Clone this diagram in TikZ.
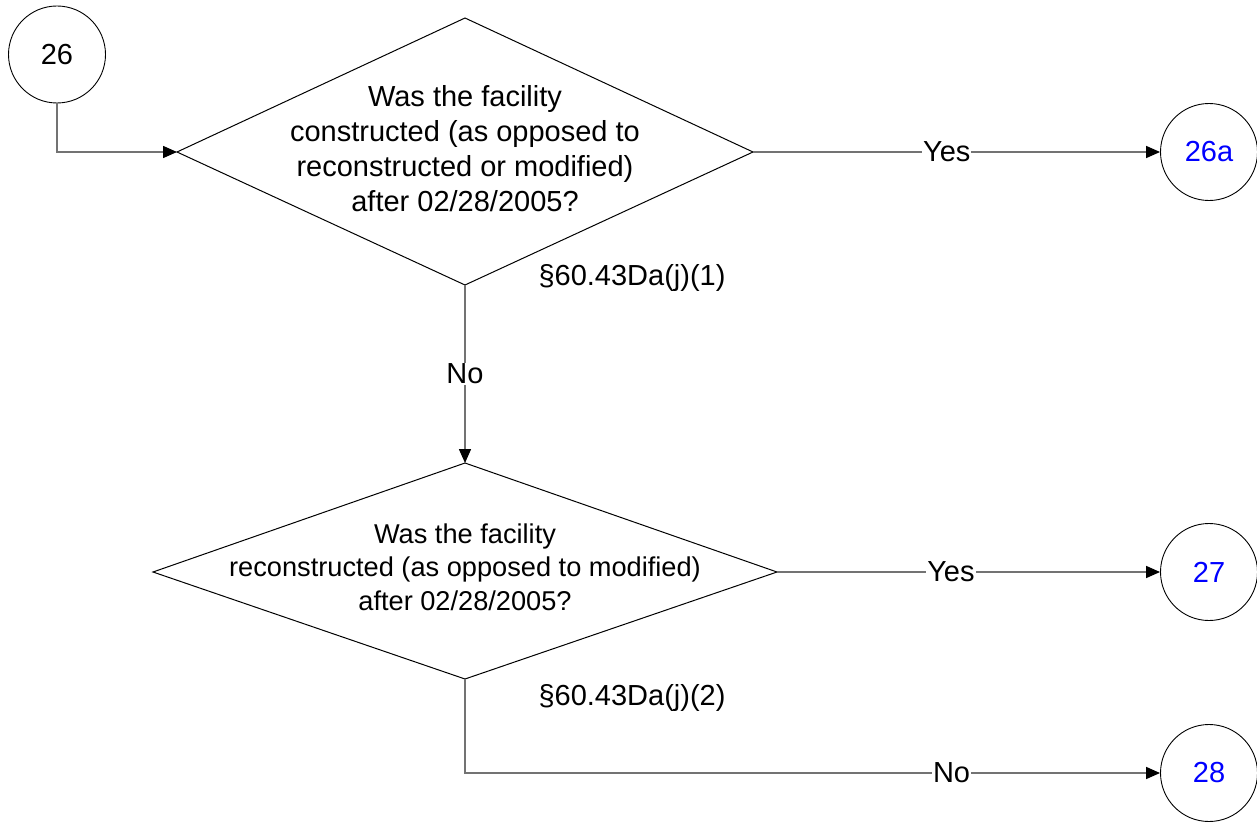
\documentclass[tikz,border=0pt]{standalone}
\usepackage{fontspec}
\setmainfont{Liberation Sans}
\usetikzlibrary{arrows.meta}
\begin{document}
\begin{tikzpicture}[x=1pt,y=-1pt,
  conn/.style={draw=black!55, line width=1.5pt, -{Triangle[length=14pt,width=12pt,color=black]}},
  dia/.style={draw=black, line width=1pt, line join=miter},
  term/.style={circle, draw=black, line width=0.9pt, minimum size=97pt, inner sep=0pt, font=\fontsize{29}{35}\selectfont},
  lbl/.style={fill=white, inner sep=1pt, font=\fontsize{29}{35}\selectfont},
  note/.style={font=\fontsize{29}{35}\selectfont},
  qtext/.style={align=center, inner sep=0pt},
  ]
\useasboundingbox (0,0) rectangle (1257,824);
% terminals
\node[term] (c26) at (57,54.5) {26};
\node[term, text=blue] (c26a) at (1209,152) {26a};
\node[term, text=blue] (c27) at (1209,572) {27};
\node[term, text=blue] (c28) at (1209,773) {28};
% diamond 1
\coordinate (d1l) at (177,152);
\coordinate (d1t) at (465,18);
\coordinate (d1r) at (753,152);
\coordinate (d1b) at (465,285);
\draw[dia] (d1l) -- (d1t) -- (d1r) -- (d1b) -- cycle;
\node[qtext, font=\fontsize{29}{35}\selectfont] (q1) at (465,149)
  {Was the facility\\constructed (as opposed to\\reconstructed or modified)\\after 02/28/2005?};
% diamond 2
\coordinate (d2l) at (153,572);
\coordinate (d2t) at (465,463);
\coordinate (d2r) at (777,572);
\coordinate (d2b) at (465,679);
\draw[dia] (d2l) -- (d2t) -- (d2r) -- (d2b) -- cycle;
\node[qtext, font=\fontsize{27.2}{33.5}\selectfont] (q2) at (465,567)
  {Was the facility\\reconstructed (as opposed to modified)\\after 02/28/2005?};
% references
\node[note, anchor=base] (n1) at (632,285) {§60.43Da(j)(1)};
\node[note, anchor=base] (n2) at (632,705) {§60.43Da(j)(2)};
% connectors
\draw[conn] (c26.south) |- (d1l);
\draw[conn] (d1r) -- node[lbl, pos=0.476] {Yes} (c26a);
\draw[conn] (d1b) -- node[lbl, pos=0.5] {No} (d2t);
\draw[conn] (d2r) -- node[lbl, pos=0.454] {Yes} (c27);
\draw[conn] (d2b) |- node[lbl, pos=0.85] {No} (c28);
\end{tikzpicture}
\end{document}
